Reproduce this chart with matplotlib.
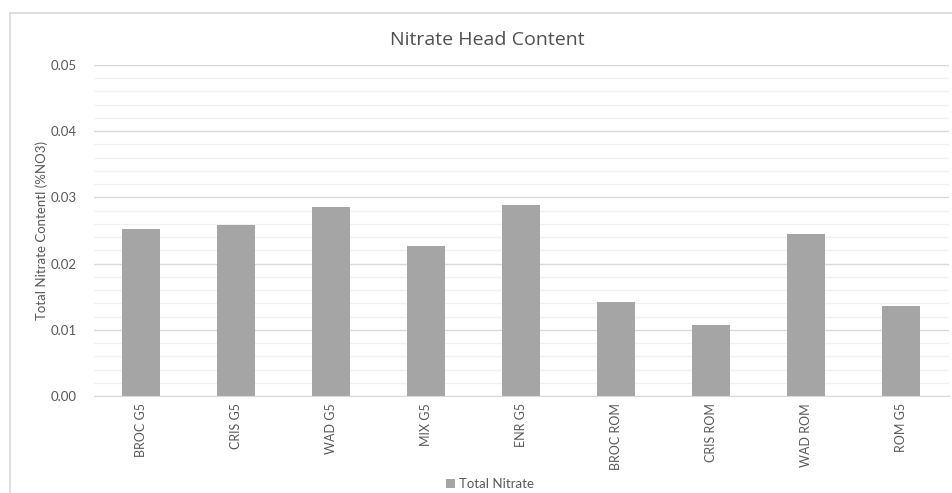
import matplotlib
matplotlib.use("Agg")
import matplotlib.pyplot as plt
from matplotlib.lines import Line2D
from matplotlib.ticker import MultipleLocator

# nitrate content per sample
samples = ["BROC G5", "CRIS G5", "WAD G5", "MIX G5", "ENR G5",
           "BROC ROM", "CRIS ROM", "WAD ROM", "ROM G5"]
total_nitrate = [0.0253, 0.0258, 0.0285, 0.0226, 0.0288,
                 0.0142, 0.0108, 0.0244, 0.0136]

bar_col = "#A5A5A5"
txt_col = "#595959"
plt.rcParams["font.family"] = ["Lato", "DejaVu Sans"]

fig = plt.figure(figsize=(9.52, 4.93), dpi=100)
ax = fig.add_axes([93.5 / 952, 1 - 396 / 493, 855 / 952, 331 / 493])

x = range(len(samples))
ax.bar(x, total_nitrate, width=0.4, color=bar_col, zorder=3, label="Total Nitrate")

ax.set_xlim(-0.5, len(samples) - 0.5)
ax.set_ylim(0, 0.05)
ax.yaxis.set_major_locator(MultipleLocator(0.01))
ax.yaxis.set_minor_locator(MultipleLocator(0.002))
ax.yaxis.set_major_formatter(lambda v, p: f"{v:.2f}")
ax.grid(axis="y", which="major", color="#D9D9D9", lw=1.0, zorder=0)
ax.grid(axis="y", which="minor", color="#F0F0F0", lw=1.0, zorder=0)

ax.set_xticks(list(x))
ax.set_xticklabels(samples, rotation=90, fontsize=9, color=txt_col)
ax.tick_params(axis="x", length=0, pad=5)
ax.tick_params(axis="y", which="both", length=0, pad=12, labelsize=9.5, labelcolor=txt_col)

for s in ["top", "right", "left"]:
    ax.spines[s].set_visible(False)
ax.spines["bottom"].set_color("#D9D9D9")
ax.spines["bottom"].set_zorder(4)

ax.set_ylabel("Total Nitrate Contentl (%NO3)", fontsize=9.5, color=txt_col, labelpad=2)
fig.text(487 / 952, 1 - 40 / 493, "Nitrate Head Content", ha="center", va="center",
         fontsize=14, color="#505050", family=["Open Sans", "DejaVu Sans"])

leg = fig.legend(*ax.get_legend_handles_labels(), loc="center", bbox_to_anchor=(490 / 952, 1 - 484 / 493),
                 frameon=False, fontsize=9.5, handlelength=0.7, handleheight=0.7,
                 handletextpad=0.3, labelcolor=txt_col)

# chart frame (left and top edges)
fig.add_artist(Line2D([10 / 952, 10 / 952], [0, 1 - 13 / 493], color="#D9D9D9", lw=1.2))
fig.add_artist(Line2D([10 / 952, 1], [1 - 13 / 493, 1 - 13 / 493], color="#D9D9D9", lw=1.2))

fig.savefig("out.png", dpi=100)
